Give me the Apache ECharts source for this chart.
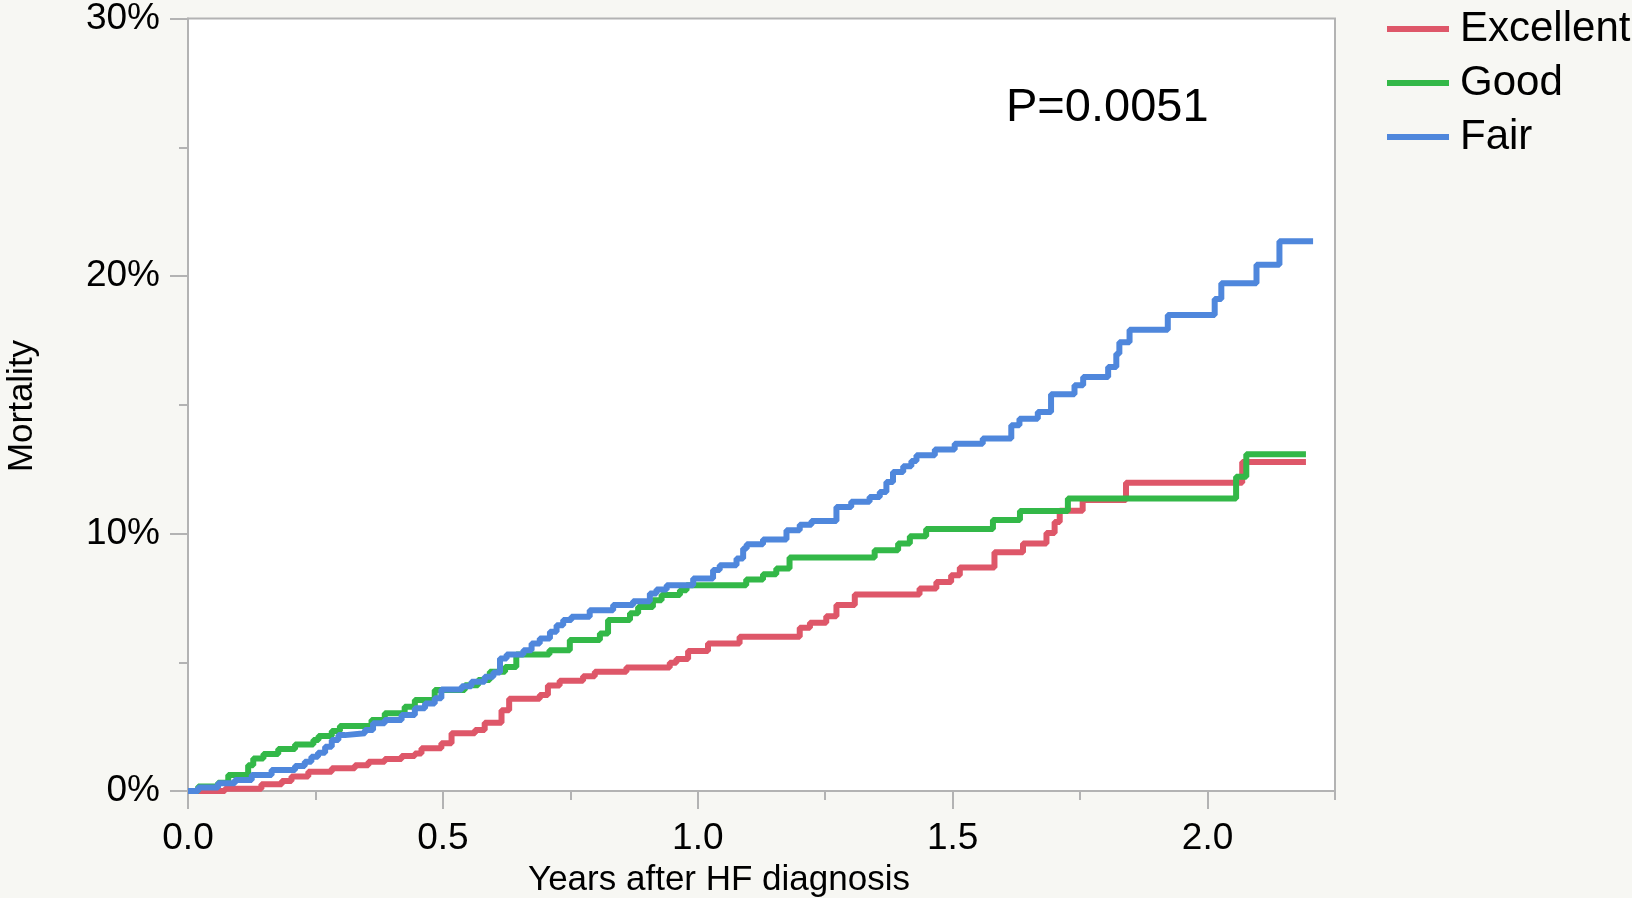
<!DOCTYPE html>
<html>
<head>
<meta charset="utf-8">
<script src="https://cdn.jsdelivr.net/npm/echarts@6/dist/echarts.min.js"></script>
<style>
  html, body { margin: 0; padding: 0; background: #f7f7f3; }
  #chart { width: 1632px; height: 898px; }
</style>
</head>
<body>
<div id="chart"></div>
<script>
// cumulative mortality (%), times in years
const excellentYears = [0, 0.0725, 0.144, 0.184, 0.203, 0.236, 0.282, 0.3275, 0.354, 0.386, 0.419, 0.445, 0.458, 0.497, 0.517, 0.563, 0.582, 0.615, 0.63, 0.69, 0.706, 0.729, 0.775, 0.798, 0.86, 0.945, 0.958, 0.981, 1.02, 1.082, 1.2, 1.22, 1.252, 1.272, 1.308, 1.435, 1.468, 1.497, 1.514, 1.582, 1.638, 1.684, 1.7, 1.71, 1.755, 1.84, 2.068, 2.193];
const excellentPct = [0, 0.09, 0.26, 0.39, 0.56, 0.75, 0.88, 1.0, 1.14, 1.24, 1.36, 1.46, 1.66, 1.85, 2.24, 2.37, 2.65, 3.14, 3.58, 3.73, 4.1, 4.28, 4.46, 4.63, 4.8, 4.98, 5.13, 5.44, 5.73, 5.99, 6.34, 6.53, 6.79, 7.22, 7.63, 7.86, 8.12, 8.38, 8.68, 9.27, 9.61, 10.02, 10.45, 10.88, 11.3, 11.97, 12.78, 12.78];

const goodYears = [0, 0.02, 0.059, 0.079, 0.118, 0.128, 0.148, 0.177, 0.21, 0.246, 0.256, 0.282, 0.298, 0.36, 0.386, 0.425, 0.445, 0.484, 0.543, 0.569, 0.592, 0.622, 0.644, 0.709, 0.749, 0.808, 0.824, 0.867, 0.883, 0.912, 0.929, 0.965, 0.978, 1.095, 1.128, 1.154, 1.18, 1.347, 1.393, 1.416, 1.448, 1.579, 1.632, 1.726, 2.056, 2.076, 2.193];
const goodPct = [0, 0.17, 0.32, 0.62, 1.0, 1.26, 1.44, 1.63, 1.81, 1.98, 2.14, 2.33, 2.52, 2.76, 3.02, 3.27, 3.53, 3.92, 4.11, 4.31, 4.63, 4.82, 5.3, 5.47, 5.86, 6.12, 6.64, 6.9, 7.15, 7.41, 7.61, 7.8, 7.99, 8.21, 8.42, 8.64, 9.07, 9.35, 9.61, 9.89, 10.17, 10.52, 10.87, 11.36, 12.2, 13.08, 13.08];

const fairYears = [0, 0.02, 0.059, 0.092, 0.125, 0.164, 0.21, 0.229, 0.242, 0.255, 0.269, 0.282, 0.295, 0.308, 0.347, 0.363, 0.386, 0.419, 0.445, 0.465, 0.484, 0.497, 0.537, 0.556, 0.582, 0.599, 0.612, 0.625, 0.658, 0.674, 0.69, 0.71, 0.723, 0.736, 0.752, 0.788, 0.834, 0.873, 0.906, 0.919, 0.939, 0.991, 1.03, 1.043, 1.076, 1.089, 1.096, 1.128, 1.174, 1.2, 1.223, 1.272, 1.301, 1.337, 1.357, 1.37, 1.383, 1.403, 1.419, 1.429, 1.465, 1.504, 1.559, 1.615, 1.631, 1.667, 1.693, 1.739, 1.756, 1.805, 1.821, 1.827, 1.847, 1.922, 2.014, 2.027, 2.096, 2.141, 2.207];
const fairPct = [0, 0.14, 0.30, 0.43, 0.62, 0.82, 0.97, 1.14, 1.33, 1.49, 1.72, 1.98, 2.17, 2.24, 2.37, 2.63, 2.76, 2.95, 3.21, 3.40, 3.6, 3.94, 4.07, 4.24, 4.44, 4.6, 5.15, 5.3, 5.47, 5.73, 5.92, 6.18, 6.44, 6.64, 6.77, 7.02, 7.22, 7.37, 7.67, 7.83, 7.99, 8.25, 8.58, 8.77, 9.03, 9.42, 9.58, 9.77, 10.13, 10.34, 10.49, 11.03, 11.23, 11.42, 11.61, 12.0, 12.39, 12.61, 12.82, 13.04, 13.26, 13.49, 13.69, 14.2, 14.46, 14.72, 15.41, 15.76, 16.08, 16.47, 16.98, 17.43, 17.91, 18.49, 19.11, 19.72, 20.44, 21.35, 21.35];

const groupNames = ['Excellent', 'Good', 'Fair'];
const xMajorTicks = [0, 0.5, 1, 1.5, 2];
const xMinorTicks = [0.25, 0.75, 1.25, 1.75, 2.25];
const pValueText = 'P=0.0051';

const zip = (xs, ys) => xs.map((x, i) => [x, ys[i]]);

const font = '"Liberation Sans", Arial, Helvetica, sans-serif';
const gray = '#b3b3b3';

let chart = echarts.init(document.getElementById('chart'));

let option = {
  backgroundColor: '#f7f7f3',
  animation: false,
  color: ['#de5769', '#33b848', '#4f87dc'],
  grid: {
    left: 188, top: 18, right: 297, bottom: 107,
    show: true, backgroundColor: '#ffffff',
    borderColor: gray, borderWidth: 2
  },
  legend: {
    orient: 'vertical',
    left: 1382, top: 3,
    icon: 'rect',
    itemWidth: 62, itemHeight: 6,
    itemGap: 12,
    data: groupNames,
    textStyle: { fontSize: 42, color: '#000', fontFamily: font, padding: [0, 0, 0, 6] }
  },
  xAxis: [
    {
      type: 'value', min: 0, max: 2.25, interval: 0.5,
      splitLine: { show: false },
      axisLine: { lineStyle: { color: gray, width: 2 } },
      axisTick: { length: 18, lineStyle: { color: gray, width: 2 }, customValues: xMajorTicks },
      axisLabel: {
        customValues: xMajorTicks,
        margin: 29, fontSize: 37, color: '#000', fontFamily: font,
        formatter: v => (Math.abs(v * 2 - Math.round(v * 2)) < 1e-6 ? v.toFixed(1) : '')
      }
    },
    {
      type: 'value', min: 0, max: 2.25, position: 'bottom',
      splitLine: { show: false },
      axisLine: { show: false },
      axisLabel: { show: false },
      axisTick: { length: 9, lineStyle: { color: gray, width: 2 }, customValues: xMinorTicks }
    }
  ],
  yAxis: {
    type: 'value', min: 0, max: 30, interval: 10,
    splitLine: { show: false },
    axisLine: { show: true, lineStyle: { color: gray, width: 2 } },
    axisTick: { show: true, length: 18, lineStyle: { color: gray, width: 2 } },
    minorTick: { show: true, splitNumber: 2, length: 9, lineStyle: { color: gray, width: 2 } },
    axisLabel: { margin: 28, fontSize: 37, color: '#000', fontFamily: font, formatter: '{value}%' }
  },
  graphic: [
    {
      type: 'text', x: 719, y: 880,
      style: { text: 'Years after HF diagnosis', fill: '#000', font: '35px ' + font, align: 'center', verticalAlign: 'middle' }
    },
    {
      type: 'text', x: 22, y: 406, rotation: Math.PI / 2,
      style: { text: 'Mortality', fill: '#000', font: '35px ' + font, align: 'center', verticalAlign: 'middle' }
    },
    {
      type: 'text', x: 1006, y: 108,
      style: { text: pValueText, fill: '#000', font: '47px ' + font, align: 'left', verticalAlign: 'middle' }
    }
  ],
  series: [
    { name: groupNames[0], type: 'line', step: 'end', showSymbol: false, lineStyle: { width: 6 }, data: zip(excellentYears, excellentPct) },
    { name: groupNames[1], type: 'line', step: 'end', showSymbol: false, lineStyle: { width: 6 }, data: zip(goodYears, goodPct) },
    { name: groupNames[2], type: 'line', step: 'end', showSymbol: false, lineStyle: { width: 6 }, data: zip(fairYears, fairPct) }
  ]
};

chart.setOption(option);
</script>
</body>
</html>
